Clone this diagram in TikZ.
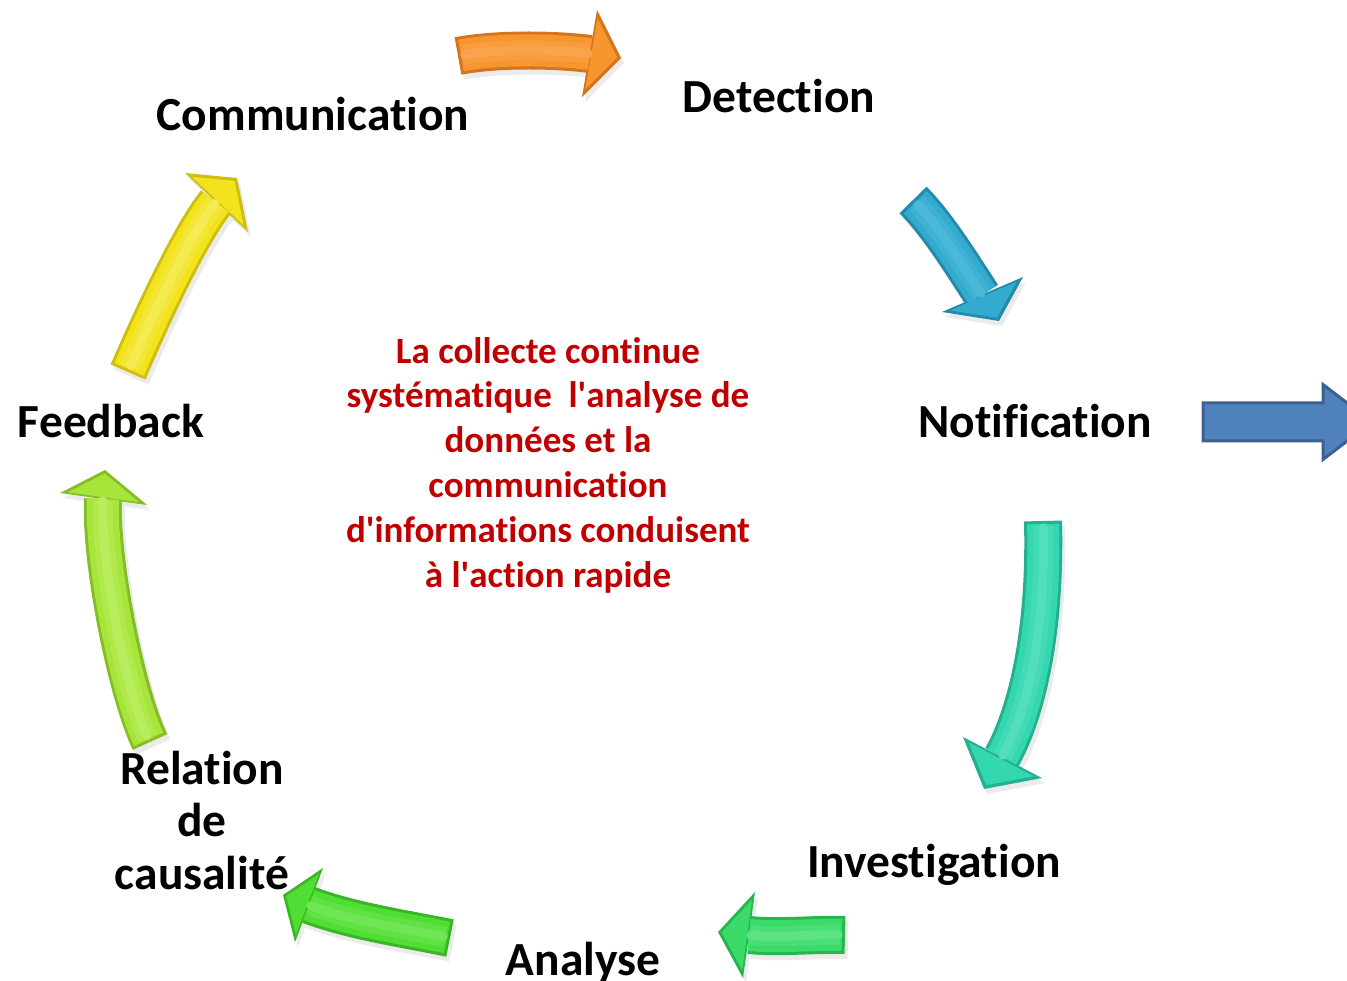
\documentclass[tikz,border=0pt]{standalone}
\usepackage{fontspec}
\setmainfont{Carlito}[Ligatures=CommonOff]
\usetikzlibrary{calc}

% arrow colours: base, dark edge (D), light ridge (L)
\definecolor{orng}{HTML}{F7952F}\definecolor{orngD}{HTML}{C96A17}\definecolor{orngL}{HTML}{FBB46A}
\definecolor{cyan}{HTML}{32ABCF}\definecolor{cyanD}{HTML}{1F7F9D}\definecolor{cyanL}{HTML}{62C6E3}
\definecolor{teal}{HTML}{33D7B0}\definecolor{tealD}{HTML}{1FA386}\definecolor{tealL}{HTML}{6FE7CA}
\definecolor{grnA}{HTML}{3ADB68}\definecolor{grnAD}{HTML}{21A846}\definecolor{grnAL}{HTML}{7CEC9B}
\definecolor{grnB}{HTML}{50DE34}\definecolor{grnBD}{HTML}{33A81D}\definecolor{grnBL}{HTML}{8FEE78}
\definecolor{lime}{HTML}{A7E53A}\definecolor{limeD}{HTML}{78B01E}\definecolor{limeL}{HTML}{CBF57F}
\definecolor{yelo}{HTML}{F2E31C}\definecolor{yeloD}{HTML}{C2B20B}\definecolor{yeloL}{HTML}{F9F083}
\definecolor{ntfy}{HTML}{4F81BD}\definecolor{ntfyD}{HTML}{3A6190}
\definecolor{coretxt}{HTML}{C00000}

\tikzset{
  stagelbl/.style={font=\bfseries\fontsize{47.5}{52.5}\selectfont, text=black,
    align=center, inner sep=0pt, anchor=base},
  corenote/.style={font=\bfseries\fontsize{37}{44.8}\selectfont, text=coretxt,
    align=center, inner sep=0pt, anchor=base},
  notifyarrow/.style={fill=ntfy, draw=ntfyD, line width=3pt, line join=miter},
}

% Bevelled curved block arrow. Coordinates used: #1t tail centre, #1c1/#1c2 shaft
% control points, #1e shaft end, #1a/#1b head back corners, #1p tip.
\newcommand{\bevelarrow}[2]{%
  \coordinate (#1m) at (barycentric cs:#1a=1,#1b=1,#1p=1);
  \begin{scope}[transform canvas={shift={(3pt,-5pt)}}]
    \draw[line width=38pt, draw=black!8] (#1t) .. controls (#1c1) and (#1c2) .. (#1e);
    \fill[black!8] (#1a) -- (#1p) -- (#1b) -- cycle;
  \end{scope}
  \draw[line width=38pt, draw=#2D!75!#2] (#1t) .. controls (#1c1) and (#1c2) .. (#1e);
  \fill[#2D!75!#2] (#1a) -- (#1p) -- (#1b) -- cycle;
  \draw[line width=32pt, draw=#2, shorten <=3pt] (#1t) .. controls (#1c1) and (#1c2) .. (#1e);
  \fill[#2] ($(#1m)!0.82!(#1a)$) -- ($(#1m)!0.82!(#1p)$) -- ($(#1m)!0.82!(#1b)$) -- cycle;
  \draw[line width=20pt, draw=#2L!25!#2, shorten <=5pt, shorten >=1pt]
    (#1t) .. controls (#1c1) and (#1c2) .. (#1e);
  \draw[line width=9pt, draw=#2L!50!#2, shorten <=7pt, shorten >=2pt, line cap=round]
    (#1t) .. controls (#1c1) and (#1c2) .. (#1e);
}

\begin{document}
\begin{tikzpicture}[x=1pt,y=-1pt]
\useasboundingbox (0,0) rectangle (1347,981);
\clip (0,0) rectangle (1347,981);

% ---- arrow geometry ----
% Communication -> Detection
\coordinate (ot) at (458,56);  \coordinate (oc1) at (500,48);  \coordinate (oc2) at (560,50);
\coordinate (oe) at (590,54);  \coordinate (oa) at (597,10);   \coordinate (ob) at (582,97);
\coordinate (op) at (621,58);
% Detection -> Notification
\coordinate (bt) at (913,200); \coordinate (bc1) at (938,225); \coordinate (bc2) at (963,266);
\coordinate (be) at (982,295); \coordinate (ba) at (942,312);  \coordinate (bb) at (1023,277);
\coordinate (bp) at (999,321);
% Notification -> Investigation
\coordinate (tt) at (1043,521); \coordinate (tc1) at (1046,640); \coordinate (tc2) at (1024,718);
\coordinate (te) at (1002,757); \coordinate (ta) at (963,737);  \coordinate (tb) at (1042,778);
\coordinate (tp) at (984,789);
% Investigation -> Analyse
\coordinate (gt) at (845,935); \coordinate (gc1) at (815,934); \coordinate (gc2) at (779,938);
\coordinate (ge) at (749,935); \coordinate (ga) at (755,892);  \coordinate (gb) at (743,978);
\coordinate (gp) at (718,932);
% Analyse -> Relation de causalite
\coordinate (ht) at (450,938); \coordinate (hc1) at (406,929); \coordinate (hc2) at (351,921);
\coordinate (he) at (309,905); \coordinate (ha) at (323,868);  \coordinate (hb) at (295,942);
\coordinate (hp) at (283,895);
% Relation de causalite -> Feedback
\coordinate (lt) at (150,742); \coordinate (lc1) at (126,692); \coordinate (lc2) at (100,559);
\coordinate (le) at (103,499); \coordinate (la) at (60,493);   \coordinate (lb) at (147,505);
\coordinate (lp) at (105,470);
% Feedback -> Communication
\coordinate (yt) at (128,372); \coordinate (yc1) at (148,326); \coordinate (yc2) at (188,237);
\coordinate (ye) at (216,202); \coordinate (ya) at (185,173);  \coordinate (yb) at (248,232);
\coordinate (yp) at (237,178);

\bevelarrow{o}{orng}
\bevelarrow{b}{cyan}
\bevelarrow{t}{teal}
\bevelarrow{g}{grnA}
\bevelarrow{h}{grnB}
\bevelarrow{l}{lime}
\bevelarrow{y}{yelo}

% outgoing arrow beside Notification
\coordinate (na) at (1203,422);
\draw[notifyarrow] (na) ++(0,-19) -- ++(120,0) -- ++(0,-18.5) -- ++(49,37.5)
  -- ++(-49,37.5) -- ++(0,-18.5) -- ++(-120,0) -- cycle;

% ---- stage labels (last line on the given baseline) ----
\node[stagelbl] (comm)  at (313,131) {Communication};
\node[stagelbl] (detec) at (779,113) {Detection};
\node[stagelbl] (notif) at (1035,438) {Notification};
\node[stagelbl] (inves) at (934,877) {Investigation};
\node[stagelbl] (analy) at (583,975) {Analyse};
\node[stagelbl] (causa) at (202,889) {Relation\\de\\causalité};
\node[stagelbl] (feedb) at (111,438) {Feedback};

% ---- centre statement ----
\node[corenote] (core) at (548,587) {La collecte continue\\systématique\ \ l\textquotesingle analyse de\\données et la\\communication\\d\textquotesingle informations conduisent\\à l\textquotesingle action rapide};
\end{tikzpicture}
\end{document}
